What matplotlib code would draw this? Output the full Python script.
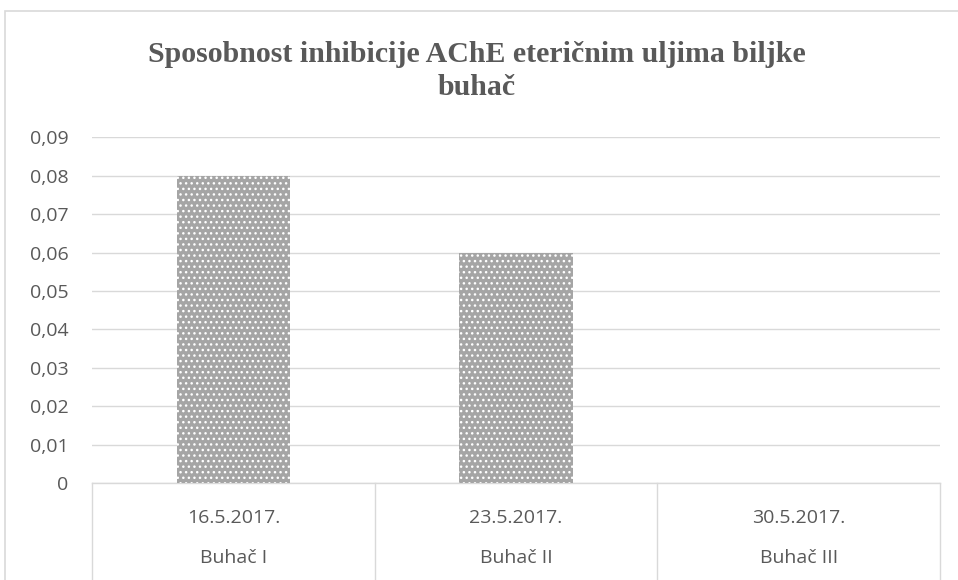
import matplotlib
matplotlib.use("Agg")
import matplotlib.pyplot as plt
from matplotlib.patches import Rectangle
import matplotlib.transforms as mtransforms

dates = ["16.5.2017.", "23.5.2017.", "30.5.2017."]
names = ["Buhač I", "Buhač II", "Buhač III"]
values = [0.08, 0.06, 0.0]
yticks = [0, 0.01, 0.02, 0.03, 0.04, 0.05, 0.06, 0.07, 0.08, 0.09]
ytick_labels = ["0", "0,01", "0,02", "0,03", "0,04", "0,05", "0,06", "0,07", "0,08", "0,09"]
title = "Sposobnost inhibicije AChE eteričnim uljima biljke\nbuhač"

plt.rcParams['hatch.linewidth'] = 1.0
text_color = "#595959"
line_color = "#d9d9d9"
label_font = "Open Sans"
label_size = 14

fig = plt.figure(figsize=(9.58, 5.8), dpi=100)
fig.patch.set_facecolor("white")

# outer chart border
fig.patches.append(Rectangle((5/958, -0.05), 1.1, 1 - 11/580 + 0.05,
                             transform=fig.transFigure, fill=False,
                             edgecolor=line_color, linewidth=1.2, zorder=0))

ax = fig.add_axes([92/958, 1 - 483/580, (940-92)/958, (483-137.4)/580])
x = list(range(len(dates)))
ax.bar(x, values, width=0.4, color="#a5a5a5", edgecolor="white",
       hatch="...", linewidth=0, zorder=3)

ax.set_xlim(-0.5, len(dates) - 0.5)
ax.set_ylim(0, 0.09)
ax.set_yticks(yticks)
ax.set_yticklabels(ytick_labels, fontsize=label_size, color=text_color, family=label_font)
ax.tick_params(axis='y', length=0, pad=17)
ax.grid(axis='y', color=line_color, linewidth=1.0, zorder=0)
ax.set_axisbelow(True)
for s in ["top", "right", "left"]:
    ax.spines[s].set_visible(False)
ax.spines["bottom"].set_color(line_color)
ax.spines["bottom"].set_linewidth(1.0)
ax.set_xticks([])

trans = mtransforms.blended_transform_factory(ax.transData, ax.transAxes)
for b in [i - 0.5 for i in range(len(dates) + 1)]:
    ax.plot([b, b], [0, -0.32], transform=trans, color=line_color,
            linewidth=1.0, clip_on=False)
for i, (d, n) in enumerate(zip(dates, names)):
    ax.text(i, -0.101, d, transform=trans, ha="center", va="center",
            fontsize=label_size, color=text_color, family=label_font)
    ax.text(i, -0.217, n, transform=trans, ha="center", va="center",
            fontsize=label_size, color=text_color, family=label_font)

fig.text(477/958, 1 - 71/580, title, ha="center", va="center",
         fontsize=21.5, fontweight="bold", color=text_color,
         family="Liberation Serif", linespacing=1.3)

fig.savefig("out.png", dpi=100)
